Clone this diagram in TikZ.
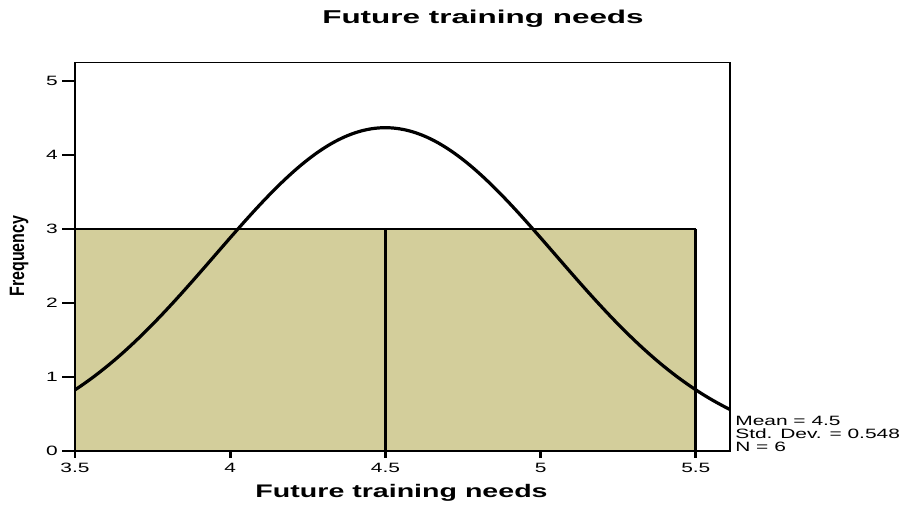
\documentclass[tikz,border=0pt]{standalone}
\usepackage{fontspec}
\setmainfont{Liberation Sans}
\definecolor{barfill}{RGB}{211,206,155}
\tikzset{
  hline/.style={line width=1.2pt},
  vline/.style={line width=2.8pt},
  normcurve/.style={line width=3.2pt, line join=round},
  ticklabel/.style={inner sep=0pt, font=\fontsize{13.5}{16}\selectfont, xscale=1.55},
}
\begin{document}
\begin{tikzpicture}[x=310.4pt,y=74pt]
\useasboundingbox (3.2584,-0.7162) rectangle (6.1643,6.0946);

% bars
\fill[barfill] (3.5,0) rectangle (5.5,3);
\draw[hline] (3.5,3) -- (5.5,3);
\foreach \b in {4.5,5.5}
{
	\draw[vline] (\b,0) -- (\b,3);
}

% frame
\draw[hline] (3.5,5.253) -- (5.6102,5.253);
\draw[line width=2pt] (5.6102,-0.008) -- (5.6102,5.261);
\draw[hline] (3.5,0) -- (5.6102,0);
\draw[vline] (3.5,-0.008) -- (3.5,5.261);

% ticks
\foreach \v in {0,...,5}
{
	\draw[hline] (3.5,\v) -- ++(-0.042,0);
	\node [ticklabel,anchor=east] (ylab\v) at (3.4452,\v) {\v};
}
\foreach \v [count=\i] in {3.5,4,4.5,5,5.5}
{
	\draw[vline] (\v,0) -- ++(0,-0.0946);
	\node [ticklabel,anchor=base] (xlab\i) at (\v,-0.297) {\v};
}

% normal curve
\draw[normcurve] plot[domain=3.5:5.6102, samples=120, smooth] (\x,{4.368*exp(-(\x-4.5)^2/0.600608)});

% labels
\node [inner sep=0pt,anchor=base,font=\bfseries\fontsize{18.6}{22}\selectfont,xscale=1.69] (title) at (4.8144,5.780) {Future training needs};
\node [inner sep=0pt,anchor=base,font=\bfseries\fontsize{18.2}{22}\selectfont,xscale=1.57] (xtitle) at (4.552,-0.6216) {Future training needs};
\node [inner sep=0pt,anchor=base,rotate=90,yscale=1.3,font=\bfseries\fontsize{16}{19}\selectfont] (ytitle) at (3.3357,2.635) {Frequency};
\foreach \t [count=\i] in {Mean = 4.5, Std. Dev. = 0.548, N = 6}
{
	\node [ticklabel,anchor=base west] (stat\i) at (5.6263,{0.3514-(\i-1)*0.1757}) {\t};
}
\end{tikzpicture}
\end{document}
